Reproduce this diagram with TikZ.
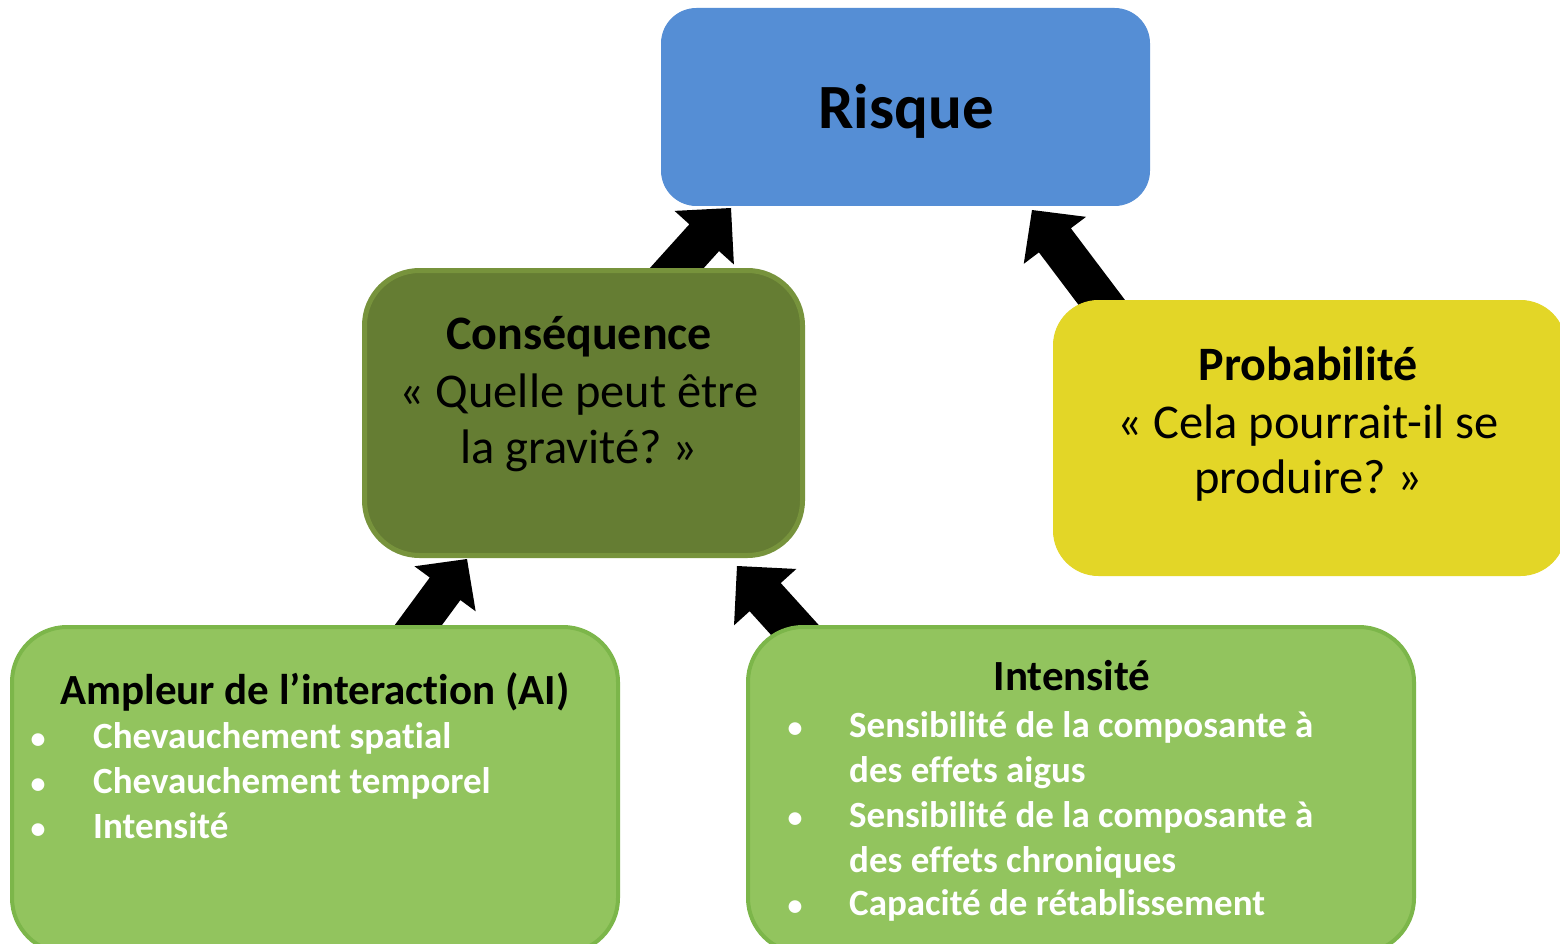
\documentclass[tikz,border=0pt]{standalone}
\usepackage{fontspec}
\setmainfont{Carlito}[Ligatures=NoCommon]
\usetikzlibrary{calc}
\definecolor{riskblue}{HTML}{558ED5}
\definecolor{consfill}{HTML}{657D33}
\definecolor{consline}{HTML}{77933C}
\definecolor{probyellow}{HTML}{E3D627}
\definecolor{lgfill}{HTML}{92C45E}
\definecolor{lgline}{HTML}{7CB64A}
\newcommand\fatarrow[5]{%
  \path ($(#2)!#3!(#1)$) coordinate (fa-b);
  \path ($(fa-b)!#4!90:(#2)$) coordinate (fa-l)
        ($(fa-b)!#4!-90:(#2)$) coordinate (fa-r)
        ($(fa-b)!#5!90:(#2)$) coordinate (fa-sl)
        ($(fa-b)!#5!-90:(#2)$) coordinate (fa-sr)
        ($(#1)!#5!90:(#2)$) coordinate (fa-ol)
        ($(#1)!#5!-90:(#2)$) coordinate (fa-or);
  \fill[black] (fa-ol) -- (fa-sl) -- (fa-l) -- (#2) -- (fa-r) -- (fa-sr) -- (fa-or) -- cycle;
}
\begin{document}
\begin{tikzpicture}[x=1pt,y=-1pt,
  box/.style={rectangle, inner sep=0pt, outer sep=0pt},
  bigtxt/.style={anchor=base, inner sep=0pt, font=\fontsize{48.5}{58}\selectfont},
  bigbold/.style={anchor=base, inner sep=0pt, font=\bfseries\fontsize{48}{58}\selectfont},
  smtitle/.style={anchor=base, inner sep=0pt, font=\bfseries\fontsize{43}{47}\selectfont},
  bul/.style={anchor=base, inner sep=0pt, text=white, font=\bfseries\fontsize{30}{36}\selectfont},
  bultxt/.style={anchor=base west, inner sep=0pt, text=white, font=\bfseries\fontsize{37}{45}\selectfont}]
\useasboundingbox (0,0) rectangle (1560,944);
\clip (0,0) rectangle (1560,944);
\fill[white] (0,0) rectangle (1560,944);
% connector end points
\coordinate (aS) at (657,290);  \coordinate (aT) at (731,208);
\coordinate (bS) at (400,650);  \coordinate (bT) at (467,559);
\coordinate (cS) at (813,650);  \coordinate (cT) at (737,566);
\coordinate (dS) at (1115,320); \coordinate (dT) at (1032,210);
\fatarrow{aS}{aT}{40pt}{40pt}{20pt}
\fatarrow{bS}{bT}{37pt}{38pt}{19pt}
\fatarrow{cS}{cT}{42pt}{42pt}{21pt}
\fatarrow{dS}{dT}{38pt}{39pt}{20pt}
% boxes
\node[box, fill=riskblue, draw=riskblue, line width=1pt, rounded corners=35pt,
      minimum width=488pt, minimum height=197pt] (risk) at (905.5,107) {};
\node[box, fill=consfill, draw=consline, line width=5pt, rounded corners=55pt,
      minimum width=438pt, minimum height=285pt] (cons) at (583.5,413) {};
\node[box, fill=probyellow, draw=probyellow, line width=1pt, rounded corners=45pt,
      minimum width=512pt, minimum height=275pt] (prob) at (1309.5,438) {};
\node[box, fill=lgfill, draw=lgline, line width=4pt, rounded corners=55pt,
      minimum width=606pt, minimum height=326pt] (ai) at (315,790) {};
\node[box, fill=lgfill, draw=lgline, line width=4pt, rounded corners=55pt,
      minimum width=666pt, minimum height=326pt] (int) at (1081,790) {};
% texts
\node[anchor=base, inner sep=0pt, font=\bfseries\fontsize{63}{76}\selectfont] (risktxt) at (906,129) {Risque};
\node[bigbold] (cons1) at (579,349) {Conséquence};
\node[bigtxt] (cons2) at (579,407) {«~Quelle peut être};
\node[bigtxt] (cons3) at (579,463) {la gravité?~»};
\node[bigbold] (prob1) at (1308,380) {Probabilité};
\node[bigtxt] (prob2) at (1308,438) {«~Cela pourrait-il se};
\node[bigtxt] (prob3) at (1308,493) {produire?~»};
\node[smtitle] (aititle) at (315,704) {Ampleur de l’interaction (AI)};
\node[bul] (aib1) at (38,748) {•};
\node[bul] (aib2) at (38,793) {•};
\node[bul] (aib3) at (38,838) {•};
\node[bultxt] (ait1) at (93,748) {Chevauchement spatial};
\node[bultxt] (ait2) at (93,793) {Chevauchement temporel};
\node[bultxt] (ait3) at (93,838) {Intensité};
\node[smtitle] (inttitle) at (1072,690) {Intensité};
\node[bul] (intb1) at (795,737) {•};
\node[bul] (intb2) at (795,827) {•};
\node[bul] (intb3) at (795,915) {•};
\node[bultxt] (intt1) at (849,737) {Sensibilité de la composante à};
\node[bultxt] (intt2) at (849,782) {des effets aigus};
\node[bultxt] (intt3) at (849,827) {Sensibilité de la composante à};
\node[bultxt] (intt4) at (849,872) {des effets chroniques};
\node[bultxt] (intt5) at (849,915) {Capacité de rétablissement};
\end{tikzpicture}
\end{document}
